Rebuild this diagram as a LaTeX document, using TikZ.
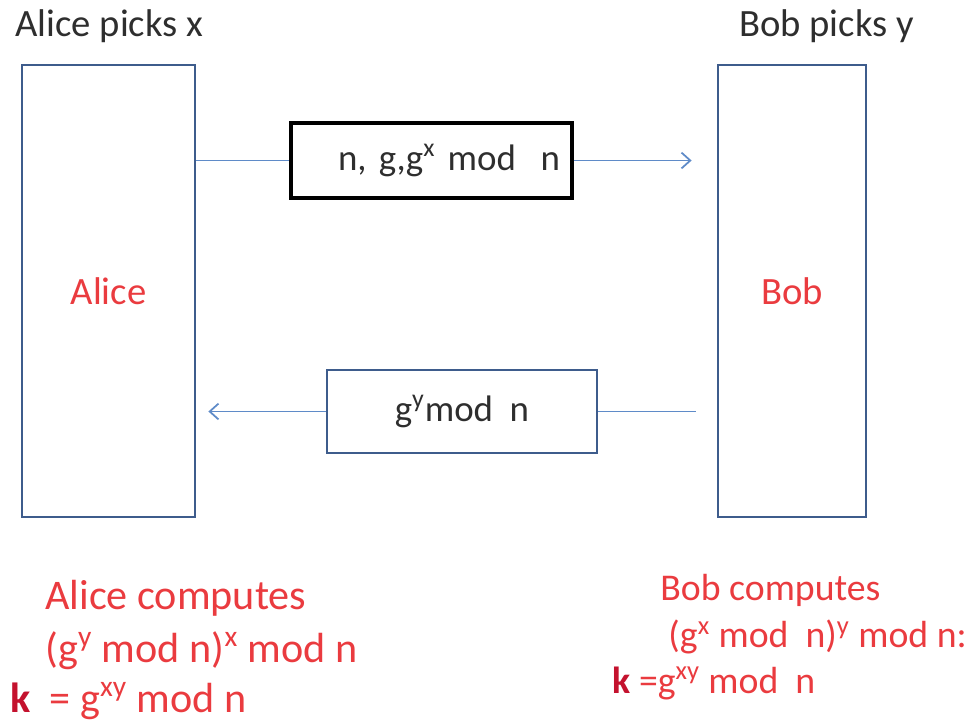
\documentclass[tikz,border=0pt]{standalone}
\usepackage{fontspec}
\setmainfont{Carlito}
\usetikzlibrary{arrows.meta,positioning}

\definecolor{boxblue}{HTML}{3E5C8C}
\definecolor{lineblue}{HTML}{5F8BC8}
\definecolor{keyred}{HTML}{EA3B3F}
\definecolor{kdark}{HTML}{C4122E}
\definecolor{inkgray}{HTML}{2E2E2E}

\begin{document}
\begin{tikzpicture}[x=0.02cm, y=-0.02cm,
  party/.style = {draw = boxblue, line width = 1.6pt, text = keyred, font = \fontsize{22}{26}\selectfont},
  msgbox/.style = {draw, fill = white, text = inkgray, font = \fontsize{21}{25}\selectfont},
  msgline/.style = {draw = lineblue, line width = 1pt},
  note/.style = {text = inkgray, font = \fontsize{22}{26}\selectfont, inner sep = 0pt},
  calc/.style = {text = keyred, font = \fontsize{24}{29}\selectfont, inner sep = 0pt, anchor = west}]
\useasboundingbox (0,0) rectangle (965,721);
% the two parties
\node[party, minimum width = 3.46cm, minimum height = 9.04cm] (alice) at (108.5,291) {Alice};
\node[party, minimum width = 2.96cm, minimum height = 9.04cm] (bob) at (792,291) {Bob};
\node[note, anchor = west] (apick) at (15,26) {Alice picks x};
\node[note, anchor = east] (bpick) at (914,26) {Bob picks y};
% messages
\node[msgbox, line width = 1.8pt, minimum height = 1.5cm, inner xsep = 0.24cm, text width = 5.14cm, align = right] (sendx) at (431.5,160.5) {n, g,g\textsuperscript{x} mod\ \ n};
\node[msgbox, draw = boxblue, line width = 1.2pt, minimum width = 5.4cm, minimum height = 1.66cm] (sendy) at (462,411.5) {g\textsuperscript{y}mod\ \ n};
\draw[msgline] (alice.east |- sendx.west) -- (sendx.west);
\draw[msgline, -{Straight Barb[length=5pt, width=9pt]}, shorten > = 0.5cm] (sendx.east) -- (bob.west |- sendx.east);
\draw[msgline] (bob.west |- sendy.east) -- (sendy.east) [shorten < = 0.42cm];
\draw[msgline, -{Straight Barb[length=5pt, width=9pt]}, shorten > = 0.24cm] (sendy.west) -- (alice.east |- sendy.west);
% what each side computes
\node[calc] (acomp) at (45,598) {Alice computes};
\node[calc] (aform) at (45,651) {(g\textsuperscript{y} mod n)\textsuperscript{x} mod n};
\node[calc] (akey) at (10,701) {\textcolor{kdark}{\textbf{k}}\ \ = g\textsuperscript{xy} mod n};
\node[calc, font = \fontsize{21.5}{25}\selectfont] (bcomp) at (660,590) {Bob computes};
\node[calc, font = \fontsize{21.5}{25}\selectfont] (bform) at (668,637) {(g\textsuperscript{x} mod\ \ n)\textsuperscript{y} mod\ n:};
\node[calc, font = \fontsize{21.5}{25}\selectfont] (bkey) at (612,683) {\textcolor{kdark}{\textbf{k}}\ =g\textsuperscript{xy} mod\ \ n};
\end{tikzpicture}
\end{document}
